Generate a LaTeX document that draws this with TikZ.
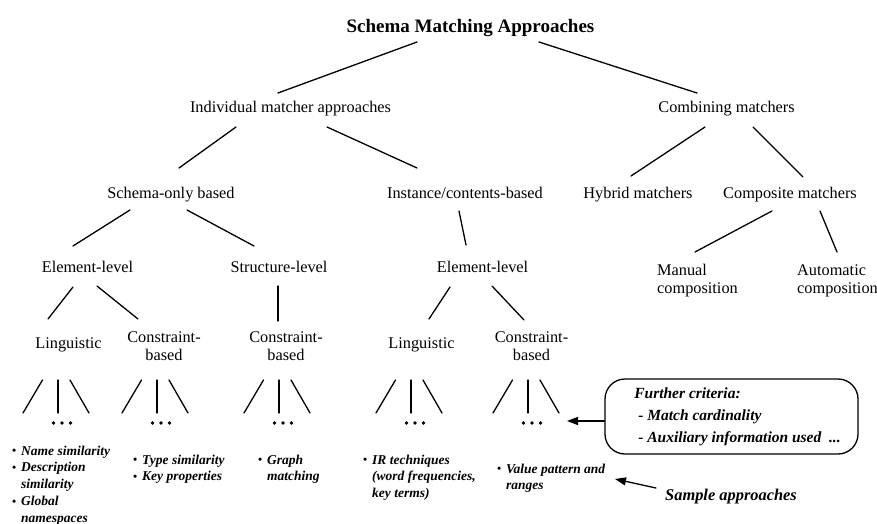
\documentclass[tikz,border=0pt]{standalone}
\usepackage{fontspec}
\setmainfont{Liberation Serif}
\usetikzlibrary{calc,arrows.meta}

% small bullet used in the example lists
\newcommand\smallbul{\makebox[9pt][l]{\fontsize{11.5}{11.5}\selectfont\raisebox{0.3pt}{•}}}

\begin{document}
\begin{tikzpicture}[x=1pt,y=-1pt,
  lbl/.style={inner sep=0pt, anchor=base, font=\fontsize{16.3}{18.5}\selectfont},
  heading/.style={inner sep=0pt, anchor=base, font=\bfseries\fontsize{19}{22}\selectfont},
  examples/.style={inner sep=0pt, anchor=base west, font=\bfseries\itshape\fontsize{13.5}{16.8}\selectfont},
  edge/.style={line width=1.3pt, line cap=round},
  arr/.style={edge, -{Triangle[length=11pt,width=8pt]}},
  critbox/.style={draw, line width=1.3pt, rounded corners=20pt, minimum width=253pt,
    minimum height=75pt, inner sep=0pt, font=\bfseries\itshape\fontsize{15.5}{22}\selectfont},
  fork/.pic={
    \draw[edge] (-15.5,0) -- (-35,33);
    \draw[edge] (0,0) -- (0,33);
    \draw[edge] (12,0) -- (31,33);
    \foreach \d in {-4.5,4,12.5} \fill (\d,43) circle (1.8);
  }
]
\useasboundingbox (0,0) rectangle (877,524);

% ---- tree labels ----
\node[heading] (top) at (470.5,33) {Schema Matching Approaches};

\node[lbl] (indiv) at (290.5,113) {Individual matcher approaches};
\node[lbl] (comb)  at (726.5,113) {Combining matchers};

\node[lbl] (schema) at (171,198) {Schema-only based};
\node[lbl] (inst)   at (465,198) {Instance/contents-based};
\node[lbl] (hybrid) at (638,198) {Hybrid matchers};
\node[lbl] (compo)  at (790,198) {Composite matchers};

\node[lbl] (elemA)  at (87.5,272)  {Element-level};
\node[lbl] (struct) at (279,272)   {Structure-level};
\node[lbl] (elemB)  at (482.5,272) {Element-level};
\node[lbl, anchor=base west] (manual) at (657,275)
  {\begin{tabular}[t]{@{}l@{}}Manual\\composition\end{tabular}};
\node[lbl, anchor=base west] (auto) at (797,275)
  {\begin{tabular}[t]{@{}l@{}}Automatic\\composition\end{tabular}};

\node[lbl] (lingA) at (68.5,348) {Linguistic};
\node[lbl] (consA) at (164,342) {\begin{tabular}[t]{@{}c@{}}Constraint-\\based\end{tabular}};
\node[lbl] (consB) at (286,342) {\begin{tabular}[t]{@{}c@{}}Constraint-\\based\end{tabular}};
\node[lbl] (lingB) at (421.5,348) {Linguistic};
\node[lbl] (consC) at (531.5,342) {\begin{tabular}[t]{@{}c@{}}Constraint-\\based\end{tabular}};

% ---- tree edges ----
\draw[edge] ($(top.base)+(-53.5,9)$)   -- ($(indiv.base)+(-12.5,-20)$);
\draw[edge] ($(top.base)+(68.5,9)$)    -- ($(comb.base)+(-29.5,-20)$);
\draw[edge] ($(indiv.base)+(-54.5,14)$) -- ($(schema.base)+(8,-30)$);
\draw[edge] ($(indiv.base)+(36.5,14)$)  -- ($(inst.base)+(-48,-30)$);
\draw[edge] ($(comb.base)+(-21.5,14)$)  -- ($(hybrid.base)+(-7,-22)$);
\draw[edge] ($(comb.base)+(26.5,14)$)   -- ($(compo.base)+(13,-21)$);
\draw[edge] ($(schema.base)+(-41,12)$)  -- ($(elemA.base)+(-14.5,-26)$);
\draw[edge] ($(schema.base)+(16,12)$)   -- ($(struct.base)+(-25,-26)$);
\draw[edge] ($(inst.base)+(-6,13)$)     -- ($(elemB.base)+(-16.5,-27)$);
\draw[edge] ($(compo.base)+(-18,13)$)   -- ($(manual.base west)+(38,-23)$);
\draw[edge] ($(compo.base)+(30,13)$)    -- ($(auto.base west)+(40,-23)$);
\draw[edge] ($(elemA.base)+(-14.5,15)$) -- ($(lingA.base)+(-20.5,-29)$);
\draw[edge] ($(elemA.base)+(9.5,14)$)   -- ($(consA.base)+(-26,-23)$);
\draw[edge] ($(struct.base)+(-1,14)$)   -- ($(consB.base)+(-8,-21)$);
\draw[edge] ($(elemB.base)+(-32.5,15)$) -- ($(lingB.base)+(7.5,-29)$);
\draw[edge] ($(elemB.base)+(9.5,14)$)   -- ($(consC.base)+(-7.5,-22)$);

% ---- open-ended forks below the leaves ----
\pic at (58,380)  {fork};
\pic at (157,380) {fork};
\pic at (279,380) {fork};
\pic at (411,380) {fork};
\pic at (528,380) {fork};

% ---- sample approaches ----
\node[examples] (exA) at (12,455) {\begin{tabular}[t]{@{}l@{}l@{}}
  \smallbul & Name similarity\\
  \smallbul & Description\\
            & similarity\\
  \smallbul & Global\\
            & namespaces\end{tabular}};
\node[examples] (exB) at (133,464) {\begin{tabular}[t]{@{}l@{}l@{}}
  \smallbul & Type similarity\\
  \smallbul & Key properties\end{tabular}};
\node[examples] (exC) at (258,464) {\begin{tabular}[t]{@{}l@{}l@{}}
  \smallbul & Graph\\
            & matching\end{tabular}};
\node[examples] (exD) at (363,464) {\begin{tabular}[t]{@{}l@{}l@{}}
  \smallbul & IR techniques\\
            & (word frequencies,\\
            & key terms)\end{tabular}};
\node[examples] (exE) at (497,473) {\begin{tabular}[t]{@{}l@{}l@{}}
  \smallbul & Value pattern and\\
            & ranges\end{tabular}};

% ---- further criteria box ----
\node[critbox] (crit) at (731.5,416.5) {\begin{tabular}{@{\hspace{12pt}}l@{}}
  Further criteria:\\
  \hspace*{4pt}- Match cardinality\\
  \hspace*{4pt}- Auxiliary information used~~...\end{tabular}};
\coordinate (critTip) at (567,421);
\draw[arr] (crit.west |- critTip) -- (critTip);

% ---- legend arrow ----
\node[inner sep=0pt, anchor=base west, font=\bfseries\itshape\fontsize{16.4}{19}\selectfont]
  (sample) at (665,500) {Sample approaches};
\coordinate (sampleTip) at (615,479);
\draw[arr] ($(sample.base west)+(-9,-12)$) -- (sampleTip);
\end{tikzpicture}
\end{document}
